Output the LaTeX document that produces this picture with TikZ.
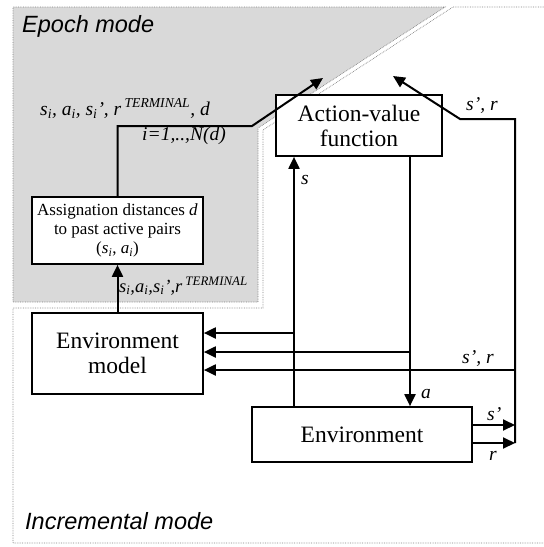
\documentclass[tikz,border=0pt]{standalone}
\usepackage{fontspec}
\setmainfont{Liberation Serif}
\setsansfont{Liberation Sans}
\usetikzlibrary{arrows.meta}
\newcommand\si{\textit{s}\textsubscript{\textit{i}}}
\newcommand\ai{\textit{a}\textsubscript{\textit{i}}}
\begin{document}
\begin{tikzpicture}[x=1pt,y=-1pt,
  blk/.style={draw,line width=1.7pt,fill=white,inner sep=0pt,align=center,
    font=\fontsize{23.5}{25}\selectfont},
  arr/.style={line width=2pt,-{Triangle[length=12pt,width=11pt]}},
  lbl/.style={inner sep=0pt,font=\fontsize{19.5}{21}\selectfont\itshape},
  mode/.style={inner sep=0pt,anchor=base west,font=\fontsize{23.5}{26}\selectfont\sffamily\itshape}]
  \useasboundingbox (0,0) rectangle (544,547);
  % regions
  \fill[gray!30](13,7)--(445,7)--(258,128)--(258,302)--(13,302)--cycle;
  \draw[gray,densely dotted,line width=.7pt](13,7)--(445,7)--(258,128)--(258,302)--(13,302)--cycle;
  \draw[gray,densely dotted,line width=.7pt](544,7)--(453,7)--(263,130)--(263,308)--(13,308)--(13,543)--(544,543);
  \node[mode] (epoch) at (22,32){Epoch mode};
  \node[mode] (incr) at (25,529){Incremental mode};
  % blocks
  \node[blk,minimum width=166pt,minimum height=61pt] (avf) at (359,125.5){Action-value\\function};
  \node[blk,minimum width=171pt,minimum height=67pt,font=\fontsize{17}{19}\selectfont] (asg) at (117.5,230.5)
    {Assignation distances \textit{d}\\to past active pairs\\(\si, \ai)};
  \node[blk,minimum width=171pt,minimum height=81pt] (emod) at (117.5,353.5){Environment\\model};
  \node[blk,minimum width=220pt,minimum height=55pt] (env) at (362,434.5){Environment};
  % points
  \coordinate (b1) at (294,333);
  \coordinate (b2) at (410,352);
  \coordinate (b3) at (515,370);
  \coordinate (sp) at (515,425);
  \coordinate (rr) at (515,443);
  \coordinate (rtop) at (515,119);
  \coordinate (rbend) at (460,119);
  \coordinate (qtip) at (393,76);
  \coordinate (pup) at (117.5,126);
  \coordinate (pbend) at (252,126);
  \coordinate (ptip) at (323,78);
  % connectors
  \draw[arr](emod.north)--(asg.south);
  \draw[arr](asg.north)--(pup)--(pbend)--(ptip);
  \draw[arr](env.north -| b1)--(avf.south -| b1);
  \draw[arr](avf.south -| b2)--(env.north -| b2);
  \draw[arr](b1)--(emod.east |- b1);
  \draw[arr](b2)--(emod.east |- b2);
  \draw[arr](b3)--(emod.east |- b3);
  \draw[arr](env.east |- sp)--(sp);
  \draw[arr](env.east |- rr)--(rr);
  \draw[arr](rr)--(rtop)--(rbend)--(qtip);
  % labels
  \node[lbl,anchor=base west] (l1) at (40,115){\si, \ai, \si’, \textit{r}\,\textsuperscript{TERMINAL}, \textit{d}};
  \node[lbl,anchor=base west] (l2) at (142,140){\textit{i}=\textit{1},..,\textit{N}(\textit{d})};
  \node[lbl,anchor=base west,font=\fontsize{18.5}{20}\selectfont\itshape] (l3) at (119,292){\si,\ai,\si’,\textit{r}\,\textsuperscript{TERMINAL}};
  \node[lbl,anchor=base west] (ls) at (301,184){s};
  \node[lbl,anchor=base west] (lsr1) at (466,110){s’, r};
  \node[lbl,anchor=base west] (lsr2) at (462,363){s’, r};
  \node[lbl,anchor=base west] (la) at (421,398){a};
  \node[lbl,anchor=base west] (lsp) at (487,420){s’};
  \node[lbl,anchor=base west] (lr) at (489,460){r};
\end{tikzpicture}
\end{document}
